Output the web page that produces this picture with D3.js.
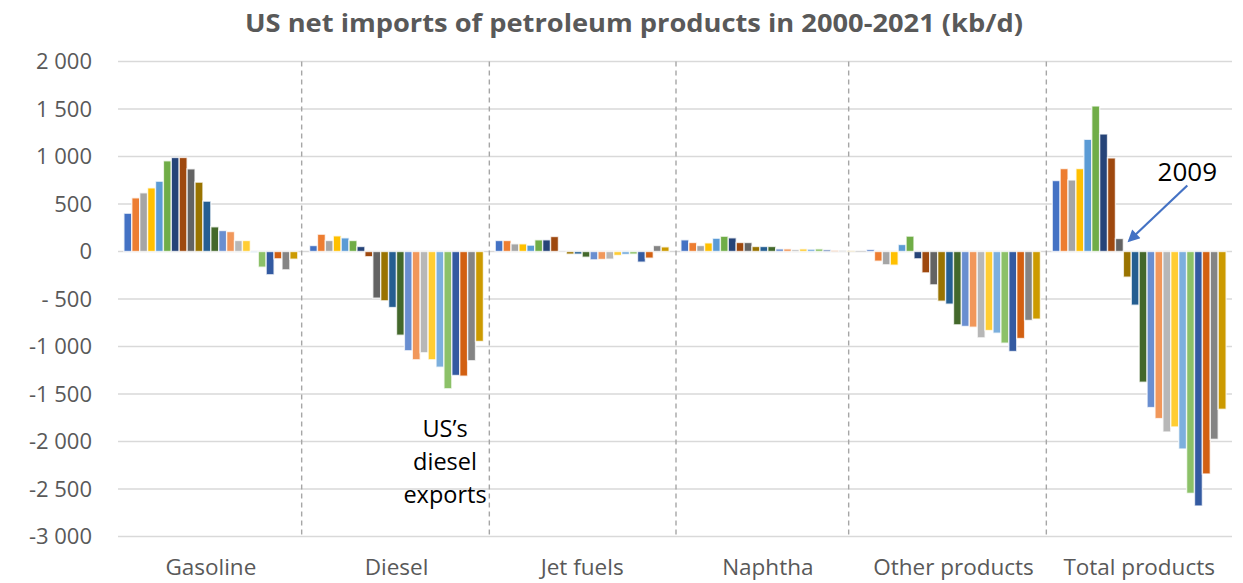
<!DOCTYPE html>
<html>
<head>
<meta charset="utf-8">
<script src="https://cdn.jsdelivr.net/npm/d3@7"></script>
<style>
  html, body { margin: 0; padding: 0; background: #fff; }
  svg { display: block; font-family: "Open Sans", "Noto Sans", sans-serif; }
</style>
</head>
<body>
<svg id="chart" width="1243" height="583"></svg>
<script>
// US net imports of petroleum products, kb/d, one series per year
const categories = ["Gasoline", "Diesel", "Jet fuels", "Naphtha", "Other products", "Total products"];
const years = ["2000","2001","2002","2003","2004","2005","2006","2007","2008","2009","2010",
               "2011","2012","2013","2014","2015","2016","2017","2018","2019","2020","2021"];

const gasoline = [403, 565, 618, 670, 740, 955, 990, 990, 870, 730, 530, 260, 221, 210, 116, 116, -10, -165, -245, -77, -193, -81];
const diesel   = [63, 182, 116, 165, 144, 116, 53, -55, -491, -519, -590, -881, -1045, -1140, -1066, -1140, -1218, -1445, -1305, -1312, -1150, -947];
const jetFuels = [116, 116, 81, 81, 67, 123, 123, 158, -5, -28, -28, -60, -88, -84, -81, -42, -32, -28, -112, -70, 63, 49];
const naphtha  = [123, 95, 63, 91, 140, 161, 144, 95, 95, 53, 53, 53, 28, 28, 21, 28, 25, 28, 18, 10, 10, 7];
const otherProducts = [21, -102, -140, -144, 74, 162, -77, -225, -351, -523, -554, -772, -789, -797, -909, -832, -860, -965, -1053, -916, -726, -712];
const totalProducts = [747, 873, 753, 873, 1181, 1532, 1237, 985, 137, -270, -565, -1376, -1643, -1759, -1900, -1847, -2079, -2546, -2679, -2342, -1977, -1661];

const yTicks = [2000, 1500, 1000, 500, 0, -500, -1000, -1500, -2000, -2500, -3000];
const yTickLabels = ["2 000", "1 500", "1 000", "500", "0", "- 500", "-1 000", "-1 500", "-2 000", "-2 500", "-3 000"];

// Office default series palette (accents, then darker / lighter / darker shades)
const yearColors = ["#4472C4", "#ED7D31", "#A5A5A5", "#FFC000", "#5B9BD5", "#70AD47",
                    "#264478", "#9E480E", "#636363", "#997300", "#255E91", "#43682B",
                    "#698ED0", "#F1975A", "#B7B7B7", "#FFCD33", "#7CAFDD", "#8CC168",
                    "#335AA1", "#D26012", "#848484", "#CC9A00"];

const seriesByCategory = [gasoline, diesel, jetFuels, naphtha, otherProducts, totalProducts];
const rows = [];
categories.forEach((c, ci) => {
  years.forEach((yr, yi) => rows.push({ category: c, year: yr, value: seriesByCategory[ci][yi] }));
});

const svg = d3.select("#chart");
const plot = { left: 118, right: 1232, top: 61.5, bottom: 536.5 };

const x0 = d3.scaleBand().domain(categories).range([plot.left, plot.right]).paddingInner(0).paddingOuter(0);
const x1 = d3.scaleBand().domain(years).range([0, x0.bandwidth()]).paddingInner(0).paddingOuter(0.745);
const y = d3.scaleLinear().domain([-3000, 2000]).range([plot.bottom, plot.top]);
const color = d3.scaleOrdinal().domain(years).range(yearColors);

// Title
svg.append("text")
  .attr("x", 634).attr("y", 32)
  .attr("text-anchor", "middle")
  .attr("font-size", 25).attr("font-weight", 700)
  .attr("fill", "#595959")
  .attr("textLength", 778).attr("lengthAdjust", "spacingAndGlyphs")
  .text("US net imports of petroleum products in 2000-2021 (kb/d)");

// Horizontal gridlines
svg.append("g").selectAll("line").data(yTicks).join("line")
  .attr("x1", plot.left).attr("x2", plot.right)
  .attr("y1", d => y(d)).attr("y2", d => y(d))
  .attr("stroke", "#D9D9D9").attr("stroke-width", 1.5);

// Y axis labels
const yAxis = d3.axisLeft(y).tickValues(yTicks).tickSize(0).tickPadding(0)
  .tickFormat((d, i) => yTickLabels[i]);
svg.append("g").attr("transform", "translate(92,0)").call(yAxis)
  .call(g => g.select(".domain").remove())
  .call(g => g.selectAll("text")
    .attr("font-family", "'Open Sans', sans-serif")
    .attr("font-size", 22).attr("fill", "#595959"));

// Dashed separators between product groups
const dividerNudge = [-2, 0, 1, -12, 0];
svg.append("g").selectAll("line").data(categories.slice(1)).join("line")
  .attr("x1", (d, i) => x0(d) + dividerNudge[i]).attr("x2", (d, i) => x0(d) + dividerNudge[i])
  .attr("y1", y(2000)).attr("y2", y(-3000))
  .attr("stroke", "#A6A6A6").attr("stroke-width", 1.4).attr("stroke-dasharray", "5,4");

// Bars
svg.append("g").selectAll("rect").data(rows).join("rect")
  .attr("x", d => x0(d.category) + x1(d.year))
  .attr("width", x1.bandwidth())
  .attr("y", d => y(Math.max(0, d.value)))
  .attr("height", d => Math.abs(y(d.value) - y(0)))
  .attr("fill", d => color(d.year))
  .attr("stroke", "rgba(255,255,255,0.75)").attr("stroke-width", 1.4);

// Category labels
const xAxis = d3.axisBottom(x0).tickSize(0).tickPadding(0);
svg.append("g").attr("transform", "translate(0,559)").call(xAxis)
  .call(g => g.select(".domain").remove())
  .call(g => g.selectAll("text")
    .attr("font-family", "'Open Sans', sans-serif")
    .attr("font-size", 22.5).attr("fill", "#595959"));

// Note under the diesel bars
const note = svg.append("text")
  .attr("text-anchor", "middle")
  .attr("font-size", 23.5).attr("fill", "#000");
["US\u2019s", "diesel", "exports"].forEach((t, i) => {
  note.append("tspan").attr("x", 445).attr("y", 437 + i * 33).text(t);
});

// 2009 callout on the total products group
const tipX = x0("Total products") + x1("2009") + x1.bandwidth() / 2 + 2;
const tipY = y(0) - 11;
const startX = tipX + 58, startY = tipY - 55;
svg.append("defs").append("marker")
  .attr("id", "arrowHead").attr("viewBox", "0 0 10 10")
  .attr("refX", 8).attr("refY", 5)
  .attr("markerWidth", 6).attr("markerHeight", 5.5)
  .attr("orient", "auto")
  .append("path").attr("d", "M0,0L10,5L0,10Z").attr("fill", "#4472C4");
svg.append("line")
  .attr("x1", startX).attr("y1", startY)
  .attr("x2", tipX).attr("y2", tipY)
  .attr("stroke", "#4472C4").attr("stroke-width", 2.2)
  .attr("marker-end", "url(#arrowHead)");
svg.append("text")
  .attr("x", startX).attr("y", startY - 5)
  .attr("text-anchor", "middle")
  .attr("font-size", 26).attr("fill", "#000")
  .text("2009");
</script>
</body>
</html>
